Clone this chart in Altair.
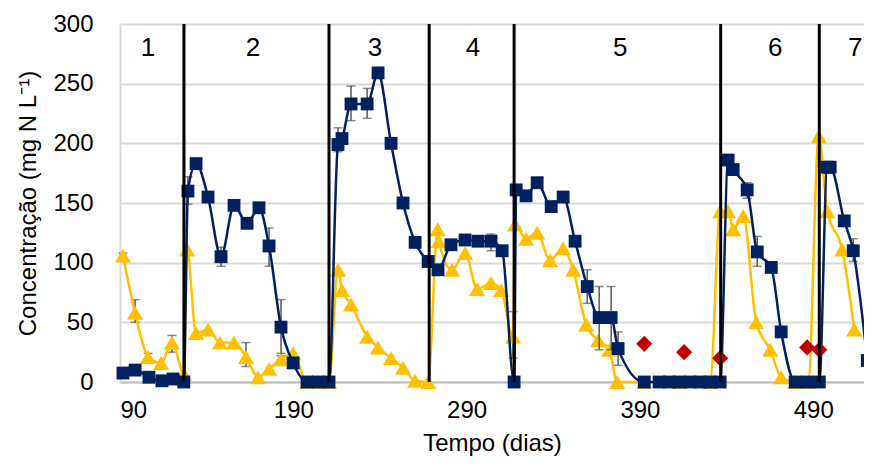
import altair as alt
import pandas as pd

# ---- data ----
navy_days = [91.7, 98.7, 106.7, 114.2, 120.6, 126.8, 129.2, 133.9, 140.8, 148.3, 155.8, 163.3, 170.2, 176.0,
             182.9, 189.9, 197.9, 204.3, 210.6, 215.8, 218.1, 223.3, 232.6, 238.9, 246.4, 253.3, 260.3,
             267.8, 273.5, 281.0, 289.1, 296.6, 304.1, 310.5, 317.4, 318.6, 324.3, 330.7, 338.8, 345.7,
             352.6, 359.6, 366.5, 373.4, 377.4, 392.5, 401.1, 406.9, 412.7, 419.0, 424.8, 430.5, 436.3,
             440.9, 443.8, 451.9, 457.7, 465.8, 471.5, 479.6, 486.5, 493.5, 498.1, 499.8, 507.9, 513.1, 521.2]
navy_vals = [7.5, 10, 4, 1, 2.5, 0, 160, 183, 155, 105, 148, 133, 146, 114,
             46, 16, 0, 0, 0, 199, 204, 233, 233, 259, 200, 150, 117,
             101, 94, 115, 119, 118, 118, 110, 0, 161, 156, 167, 147, 155,
             118, 80, 54, 54, 28, 0, 0, 0, 0, 0, 0, 0, 0,
             186, 178, 161, 109, 96, 42, 0, 0, 0, 180, 180, 135, 110, 18]

yellow_days = [91.7, 98.7, 106.2, 113.7, 120.0, 126.9, 128.7, 133.9, 140.8, 147.7, 155.8, 162.7, 169.7,
               176.0, 182.9, 189.9, 197.9, 204.3, 210.6, 215.8, 218.1, 223.3, 232.6, 238.9, 246.4, 253.3,
               260.3, 267.8, 273.3, 273.9, 281.6, 289.1, 296.1, 304.1, 309.9, 316.8, 318.0, 324.3, 330.7,
               338.2, 345.7, 351.5, 359.0, 365.9, 372.3, 376.9, 392.5, 412.7, 430.5, 436.3, 440.9, 443.8,
               449.6, 457.1, 465.2, 471.5, 479.6, 487.1, 493.2, 498.1, 506.7, 513.7]
yellow_vals = [106, 58, 21, 16, 33, 7, 111, 41, 44, 33, 33, 21, 4,
               11, 19, 24, 0, 0, 0, 94, 77, 65, 38, 29, 20, 12,
               1, 0, 128, 118, 94, 108, 78, 83, 77, 38, 132, 120, 125,
               102, 112, 94, 48, 35, 27, 0, 0, 0, 0, 143, 143, 128,
               139, 50, 27, 4, 0, 0, 206, 143, 111, 44]

red_days = [392.5, 415.5, 436.3, 486.5, 493.5]
red_vals = [32, 25, 20, 29, 27]

navy_err_days = [129.2, 148.3, 176.0, 182.9, 215.8, 223.3, 232.6, 304.1, 330.7, 359.6, 366.5, 373.4,
                 377.4, 451.9, 457.7, 513.1, 498.1]
navy_err_lo = [149, 97, 97, 24, 193, 219, 221, 110, 163, 66, 27, 27, 14, 154, 97, 101, 178]
navy_err_hi = [172, 113, 129, 69, 213, 248, 246, 124, 170, 94, 80, 80, 42, 167, 122, 120, 182]

yellow_err_days = [91.7, 98.7, 106.2, 120.0, 162.7, 182.9, 316.8]
yellow_err_lo = [104, 50, 18, 25, 13, 14, 20]
yellow_err_hi = [108, 69, 24, 39, 33, 22, 59]

period_bounds = [126.9, 210.6, 268.4, 317.4, 436.6, 493.5]
period_labels = ["1", "2", "3", "4", "5", "6", "7"]
period_label_days = [106.2, 166.8, 237.2, 293.7, 378.6, 468.1, 514.2]
period_label_y = 280

x_ticks = [90, 190, 290, 390, 490]
y_ticks = [0, 50, 100, 150, 200, 250, 300]

NAVY = "#002060"
YELLOW = "#FFC000"
RED = "#C00000"
FONT = "Liberation Sans"

navy_df = pd.DataFrame({"d": navy_days, "v": navy_vals})
yellow_df = pd.DataFrame({"d": yellow_days, "v": yellow_vals})
red_df = pd.DataFrame({"d": red_days, "v": red_vals})
nerr_df = pd.DataFrame({"d": navy_err_days, "lo": navy_err_lo, "hi": navy_err_hi})
yerr_df = pd.DataFrame({"d": yellow_err_days, "lo": yellow_err_lo, "hi": yellow_err_hi})
bounds_df = pd.DataFrame({"d": period_bounds})
labels_df = pd.DataFrame({"d": period_label_days, "t": period_labels, "v": [period_label_y] * 7})

xscale = alt.Scale(domain=[90, 519.3], nice=False, zero=False)
yscale = alt.Scale(domain=[0, 300], nice=False)

xaxis = alt.Axis(values=x_ticks, title="Tempo (dias)", grid=False, ticks=False,
                 labelFontSize=24, titleFontSize=24, labelFont=FONT, titleFont=FONT,
                 labelColor="black", titleColor="black", titleFontWeight="normal",
                 labelPadding=16, titlePadding=9, domainColor="#BFBFBF", domainWidth=2)
yaxis = alt.Axis(values=y_ticks, title="Concentração (mg N L⁻¹)", grid=True, ticks=False,
                 gridColor="#D9D9D9", gridWidth=2,
                 labelFontSize=24, titleFontSize=24, labelFont=FONT, titleFont=FONT,
                 labelColor="black", titleColor="black", titleFontWeight="normal",
                 labelPadding=27, titlePadding=12, domainColor="#D9D9D9", domainWidth=2)

X = alt.X("d:Q", scale=xscale, axis=xaxis)
Y = alt.Y("v:Q", scale=yscale, axis=yaxis)
Xn = alt.X("d:Q", scale=xscale)
Yn = alt.Y("v:Q", scale=yscale)

ERR = "#595959"

def errbars(df):
    bar = alt.Chart(df).mark_rule(color=ERR, strokeWidth=1.5).encode(
        x=Xn, y=alt.Y("lo:Q", scale=yscale), y2="hi:Q")
    cap_lo = alt.Chart(df).mark_tick(color=ERR, orient="horizontal", size=9, thickness=1.5).encode(
        x=Xn, y=alt.Y("lo:Q", scale=yscale))
    cap_hi = alt.Chart(df).mark_tick(color=ERR, orient="horizontal", size=9, thickness=1.5).encode(
        x=Xn, y=alt.Y("hi:Q", scale=yscale))
    return bar + cap_lo + cap_hi

yellow_line = alt.Chart(yellow_df).mark_line(color=YELLOW, strokeWidth=2.5, interpolate="monotone").encode(x=X, y=Y)
yellow_pts = alt.Chart(yellow_df).mark_point(shape="triangle-up", size=260, filled=True, opacity=1,
                                              color=YELLOW).encode(x=Xn, y=Yn)
navy_line = alt.Chart(navy_df).mark_line(color=NAVY, strokeWidth=2.5, interpolate="monotone").encode(x=Xn, y=Yn)
navy_pts = alt.Chart(navy_df).mark_point(shape="square", size=165, filled=True, opacity=1,
                                          color=NAVY).encode(x=Xn, y=Yn)
red_pts = alt.Chart(red_df).mark_point(shape="diamond", size=260, filled=True, opacity=1,
                                        color=RED).encode(x=Xn, y=Yn)
vlines = alt.Chart(bounds_df).mark_rule(color="black", strokeWidth=3).encode(x=Xn)
labels = alt.Chart(labels_df).mark_text(fontSize=26, font=FONT, color="black", baseline="middle",
                                        align="center").encode(x=Xn, y=Yn, text="t:N")

chart = alt.layer(
    errbars(yerr_df), yellow_line, yellow_pts,
    errbars(nerr_df), navy_line, navy_pts,
    red_pts, vlines, labels,
).properties(
    width=744, height=358,
    autosize=alt.AutoSizeParams(type="none"),
    padding={"left": 112, "top": 16, "right": 0, "bottom": 78},
).configure_view(stroke=None).configure(background="white")

chart.save("out.html", embed_options={"renderer": "svg", "actions": False})
